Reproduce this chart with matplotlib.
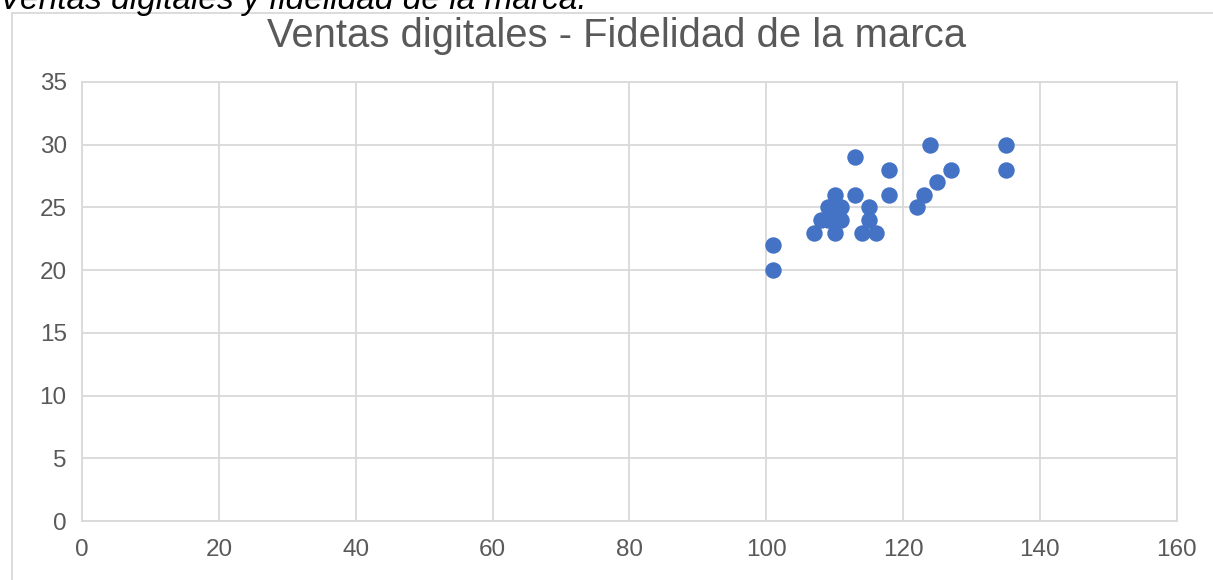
import matplotlib
matplotlib.use("Agg")
import matplotlib.pyplot as plt
from matplotlib.lines import Line2D

# data
ventas = [101, 101, 107, 108, 109, 109, 110, 110, 110, 110, 111, 111, 113, 113,
          114, 115, 115, 116, 118, 118, 122, 123, 124, 125, 127, 135, 135]
fidelidad = [22, 20, 23, 24, 25, 24, 26, 25, 24, 23, 25, 24, 29, 26,
             23, 25, 24, 23, 28, 26, 25, 26, 30, 27, 28, 30, 28]
x_ticks = [0, 20, 40, 60, 80, 100, 120, 140, 160]
y_ticks = [0, 5, 10, 15, 20, 25, 30, 35]

title = "Ventas digitales - Fidelidad de la marca"
caption = "Ventas digitales y fidelidad de la marca."

plt.rcParams["font.family"] = ["Liberation Sans", "DejaVu Sans"]

W, H = 1213, 580
fig = plt.figure(figsize=(W / 100, H / 100), dpi=100)
ax = fig.add_axes([82 / W, (H - 521) / H, (1176.7 - 82) / W, (521 - 82) / H])

grid_col = "#D9D9D9"
txt_col = "#595959"

ax.scatter(ventas, fidelidad, s=140, color="#4472C4", zorder=3, linewidths=0)

ax.set_xlim(x_ticks[0], x_ticks[-1])
ax.set_ylim(y_ticks[0], y_ticks[-1])
ax.set_xticks(x_ticks)
ax.set_yticks(y_ticks)
ax.grid(True, color=grid_col, linewidth=1.3)
ax.set_axisbelow(True)
for sp in ax.spines.values():
    sp.set_color(grid_col)
    sp.set_linewidth(1.3)
ax.tick_params(length=0, labelsize=17.5, labelcolor=txt_col)
ax.tick_params(axis="x", pad=13)
ax.tick_params(axis="y", pad=11)

fig.text(617 / W, 1 - 46.7 / H, title, ha="center", va="baseline",
         fontsize=28.8, color=txt_col)

# cut-off caption above the chart frame (the reference shows it clipped too)
fig.text(-1 / W, 1 - 9 / H, caption, ha="left", va="baseline",
         fontsize=24, style="italic", color="black")

# chart frame (top and left edges visible)
fig.add_artist(Line2D([12 / W, 1], [1 - 13 / H, 1 - 13 / H],
                      transform=fig.transFigure, color=grid_col, linewidth=1.3))
fig.add_artist(Line2D([12 / W, 12 / W], [0, 1 - 13 / H],
                      transform=fig.transFigure, color=grid_col, linewidth=1.3))

fig.savefig("out.png", dpi=100)
